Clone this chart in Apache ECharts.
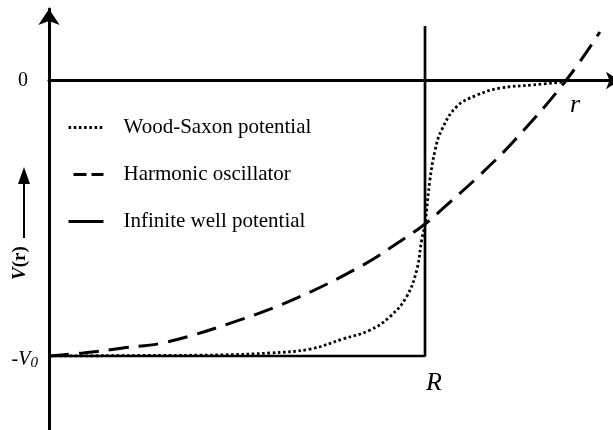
<!DOCTYPE html>
<html>
<head>
<meta charset="utf-8">
<script src="https://cdn.jsdelivr.net/npm/echarts@6/dist/echarts.min.js"></script>
<style>
  html, body { margin: 0; padding: 0; background: #fff; }
  #chart { width: 613px; height: 430px; }
</style>
</head>
<body>
<div id="chart"></div>
<script>
// Radius in units of R, potential in units of V0
const wsR  = [0, 0.269, 0.455, 0.588, 0.694, 0.782, 0.854, 0.907, 0.951, 0.978, 0.991, 1.0, 1.013, 1.027, 1.044, 1.084, 1.138, 1.199, 1.288, 1.375];
const wsV  = [-1, -0.998, -0.996, -0.989, -0.975, -0.938, -0.906, -0.857, -0.785, -0.688, -0.579, -0.521, -0.361, -0.252, -0.18, -0.095, -0.053, -0.028, -0.016, -0.005];

const hoR  = [0, 0.09, 0.197, 0.314, 0.508, 0.66, 0.835, 0.941, 1.0, 1.053, 1.146, 1.239, 1.375, 1.465];
const hoV  = [-1, -0.989, -0.971, -0.949, -0.869, -0.789, -0.670, -0.577, -0.521, -0.458, -0.343, -0.216, 0, 0.176];

const wellR = [0, 1, 1];
const wellV = [-1, -1, 0.198];

const seriesNames = ['Wood-Saxon potential', 'Harmonic oscillator', 'Infinite well potential'];

const zip = (a, b) => a.map((v, i) => [v, b[i]]);
const SERIF = "'Liberation Serif', 'Times New Roman', serif";

const chart = echarts.init(document.getElementById('chart'), null, { renderer: 'canvas' });

chart.setOption({
  animation: false,
  backgroundColor: '#fff',
  color: ['#000', '#000', '#000'],
  grid: { left: 49, right: -7, top: 9, bottom: 0, containLabel: false, outerBoundsMode: 'none' },
  xAxis: {
    type: 'value', min: 0, max: 1.5186,
    axisLine: { onZero: true, symbol: ['none', 'arrow'], symbolSize: [13, 14], lineStyle: { color: '#000', width: 3 } },
    axisTick: { show: false }, axisLabel: { show: false }, splitLine: { show: false }
  },
  yAxis: {
    type: 'value', min: -1.2686, max: 0.2595,
    axisLine: { show: true, onZero: false, symbol: ['none', 'arrow'], symbolSize: [16, 16], lineStyle: { color: '#000', width: 3 } },
    axisTick: { show: false }, axisLabel: { show: false }, splitLine: { show: false }
  },
  legend: {
    orient: 'vertical', left: 67, top: 117, padding: 0,
    itemWidth: 35, itemHeight: 14, itemGap: 26,
    itemStyle: { opacity: 0 },
    textStyle: { fontFamily: SERIF, fontSize: 21, color: '#000', padding: [0, 0, 0, 15] },
    data: [
      { name: seriesNames[0], lineStyle: { type: [2.6, 2.6], width: 2.8 } },
      { name: seriesNames[1], lineStyle: { type: [13, 5], dashOffset: 13, width: 3 } },
      { name: seriesNames[2], lineStyle: { width: 3 } }
    ]
  },
  series: [
    {
      name: seriesNames[0], type: 'line', data: zip(wsR, wsV),
      smooth: 0.4, symbol: 'none', showSymbol: false,
      itemStyle: { color: '#000' },
      lineStyle: { color: '#000', width: 2.8, type: [2.6, 2.6], cap: 'butt' }, z: 3
    },
    {
      name: seriesNames[1], type: 'line', data: zip(hoR, hoV),
      smooth: 0.4, symbol: 'none', showSymbol: false,
      itemStyle: { color: '#000' },
      lineStyle: { color: '#000', width: 3, type: [20, 10] }, z: 3
    },
    {
      name: seriesNames[2], type: 'line', data: zip(wellR, wellV),
      symbol: 'none', showSymbol: false,
      itemStyle: { color: '#000' },
      lineStyle: { color: '#000', width: 2.7 }, z: 2
    }
  ]
});

// Annotations placed from the axes' own scale
const p0 = chart.convertToPixel({ gridIndex: 0 }, [0, 0]);
const pWell = chart.convertToPixel({ gridIndex: 0 }, [wellR[1], wellV[1]]);

chart.setOption({
  graphic: [
    { type: 'text', x: p0[0] - 21, y: p0[1], style: { text: '0', font: '20px ' + SERIF, fill: '#000', align: 'right', verticalAlign: 'middle' } },
    { type: 'text', x: p0[0] - 11, y: pWell[1] + 4, style: {
        text: '{a|-}{v|V}{s|0}', align: 'right', verticalAlign: 'middle',
        rich: {
          a: { fontFamily: SERIF, fontSize: 20, fill: '#000' },
          v: { fontFamily: SERIF, fontSize: 20, fontStyle: 'italic', fill: '#000' },
          s: { fontFamily: SERIF, fontSize: 15, fontStyle: 'italic', fill: '#000', verticalAlign: 'bottom', padding: [6, 0, 0, 0] }
        } } },
    { type: 'text', x: pWell[0] + 9, y: pWell[1] + 27, style: { text: 'R', font: 'italic 26px ' + SERIF, fill: '#000', align: 'center', verticalAlign: 'middle' } },
    { type: 'text', x: 575, y: 105, style: { text: 'r', font: 'italic 26px ' + SERIF, fill: '#000', align: 'center', verticalAlign: 'middle' } },
    { type: 'text', x: 20, y: 263, rotation: Math.PI / 2, style: {
        text: '{v|V}{p|(r)}', align: 'center', verticalAlign: 'middle',
        rich: {
          v: { fontFamily: SERIF, fontSize: 19, fontStyle: 'italic', fontWeight: 'bold', fill: '#000' },
          p: { fontFamily: SERIF, fontSize: 19, fontWeight: 'bold', fill: '#000' }
        } } },
    { type: 'line', shape: { x1: 24, y1: 238, x2: 24, y2: 180 }, style: { stroke: '#000', lineWidth: 2 } },
    { type: 'polygon', shape: { points: [[24, 167], [18, 184], [30, 184]] }, style: { fill: '#000' } }
  ]
});
</script>
</body>
</html>
